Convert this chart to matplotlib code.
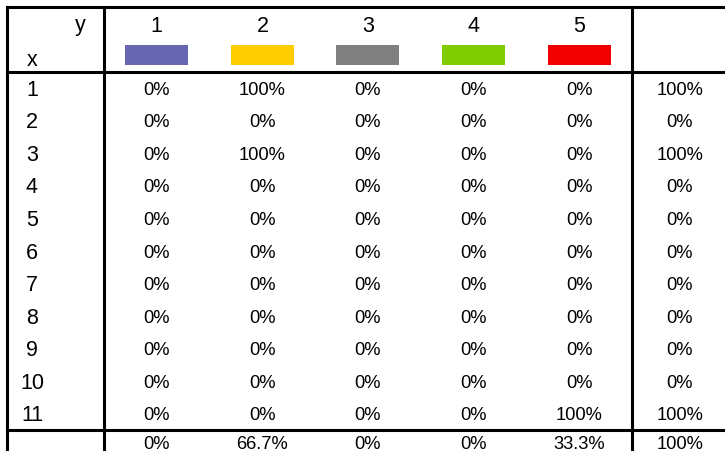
import matplotlib.pyplot as plt
from matplotlib.patches import Rectangle

# ---- dados da tabela ----
col_labels = ["1", "2", "3", "4", "5"]
col_colors = ["#6666b3", "#ffcc00", "#808080", "#80cc00", "#f20000"]
row_labels = ["1", "2", "3", "4", "5", "6", "7", "8", "9", "10", "11"]

# percentuais por linha (x) e coluna (y)
row_pct = [
    [0, 100, 0, 0, 0],
    [0, 0, 0, 0, 0],
    [0, 100, 0, 0, 0],
    [0, 0, 0, 0, 0],
    [0, 0, 0, 0, 0],
    [0, 0, 0, 0, 0],
    [0, 0, 0, 0, 0],
    [0, 0, 0, 0, 0],
    [0, 0, 0, 0, 0],
    [0, 0, 0, 0, 0],
    [0, 0, 0, 0, 100],
]
row_totals = [100, 0, 100, 0, 0, 0, 0, 0, 0, 0, 100]
col_totals = [0, 66.7, 0, 0, 33.3]
grand_total = 100


def fmt(v):
    return f"{v:g}%"


plt.rcParams["font.family"] = ["Liberation Sans", "DejaVu Sans"]

fig = plt.figure(figsize=(7.25, 4.52), dpi=100)
ax = fig.add_axes([0, 0, 1, 1])
ax.set_xlim(0, 725)
ax.set_ylim(452, 0)
ax.axis("off")

# geometria (pixels)
left, xsep, tsep, right = 7, 104, 632, 740
top, hbot = 8, 73
row_h = 32.55
tot_top = hbot + row_h * len(row_labels)
bottom = tot_top + 30
col_w = (tsep - xsep) / len(col_labels)
tot_x = 680

big, small = 15.5, 13.2

lw = 2.2
for y in [top, hbot, tot_top, bottom]:
    ax.plot([left, right], [y, y], color="black", lw=lw, solid_capstyle="projecting")
for x in [left, xsep, tsep, right]:
    ax.plot([x, x], [top, bottom], color="black", lw=lw, solid_capstyle="projecting")

# cabeçalho
ax.text(80, 26, "y", fontsize=big, ha="center", va="center")
ax.text(32, 60, "x", fontsize=big, ha="center", va="center")
for j, (lab, c) in enumerate(zip(col_labels, col_colors)):
    cx = xsep + col_w * (j + 0.5)
    ax.text(cx, 26, lab, fontsize=big, ha="center", va="center")
    ax.add_patch(Rectangle((cx - 31.5, 46), 63, 20, color=c, lw=0))

# linhas de dados
for i, lab in enumerate(row_labels):
    cy = hbot + row_h * (i + 0.5) + 1
    ax.text(32, cy, lab, fontsize=big, ha="center", va="center")
    for j, v in enumerate(row_pct[i]):
        cx = xsep + col_w * (j + 0.5)
        ax.text(cx, cy, fmt(v), fontsize=small, ha="center", va="center")
    ax.text(tot_x, cy, fmt(row_totals[i]), fontsize=small, ha="center", va="center")

# linha de totais
cy = tot_top + 13
for j, v in enumerate(col_totals):
    cx = xsep + col_w * (j + 0.5)
    ax.text(cx, cy, fmt(v), fontsize=small, ha="center", va="center")
ax.text(tot_x, cy, fmt(grand_total), fontsize=small, ha="center", va="center")

fig.savefig("out.png", dpi=100)
